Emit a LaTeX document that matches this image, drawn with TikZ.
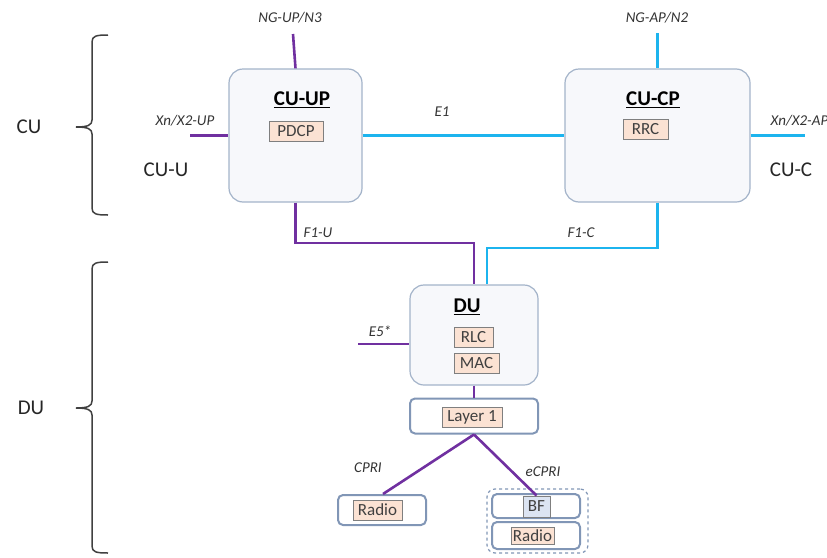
\documentclass[tikz,border=0pt]{standalone}
\usepackage{fontspec}
\setmainfont{Carlito}
\definecolor{plum}{HTML}{7030A0}
\definecolor{sky}{HTML}{1CB4EE}
\definecolor{unitline}{HTML}{A3B3C9}
\definecolor{unitfill}{HTML}{F7F8FB}
\definecolor{layerline}{HTML}{8196B6}
\definecolor{tagline}{HTML}{7F7F7F}
\definecolor{tagfill}{HTML}{FBE2D3}
\definecolor{bffill}{HTML}{DCE4F2}
\definecolor{braceline}{HTML}{404040}
\begin{document}
\begin{tikzpicture}[x=1pt,y=-1pt,
  unit/.style={draw=unitline, fill=unitfill, rounded corners=14pt, line width=1.2pt, inner sep=0pt},
  layerbox/.style={draw=layerline, fill=white, rounded corners=5pt, line width=2pt, inner sep=0pt},
  groupbox/.style={draw=layerline, dashed, rounded corners=8pt, line width=1.2pt, inner sep=0pt},
  tag/.style={draw=tagline, fill=tagfill, line width=1pt, inner sep=0pt, font=\fontsize{17}{17}\selectfont, text=black!75, minimum height=20pt},
  title/.style={font=\bfseries\fontsize{21}{21}\selectfont},
  iface/.style={font=\itshape\fontsize{15}{15}\selectfont, text=black!80},
  side/.style={font=\fontsize{21}{21}\selectfont, text=black!85},
  upl/.style={draw=plum, line width=2.6pt},
  cpl/.style={draw=sky, line width=2.6pt},
  bracepath/.style={draw=braceline, line width=1.5pt}]
\useasboundingbox (0,0) rectangle (827,557);

% functional units
\node[unit, minimum width=133pt, minimum height=133pt] (cuup) at (295.5,135.5) {};
\node[unit, minimum width=185pt, minimum height=133pt] (cucp) at (657.5,135.5) {};
\node[unit, minimum width=128pt, minimum height=100pt] (du) at (474,335) {};
\node[title] (cuupt) at (302,100) {\underline{CU-UP}};
\node[title] (cucpt) at (653,100) {\underline{CU-CP}};
\node[title] (dut) at (467,307) {\underline{DU}};
\node[tag, minimum width=54pt] (pdcp) at (296,131) {PDCP};
\node[tag, minimum width=45pt] (rrc) at (645.5,129) {RRC};
\node[tag, minimum width=39pt] (rlc) at (473.5,337) {RLC};
\node[tag, minimum width=45pt] (mac) at (476.5,363) {MAC};

% layer 1 and radio units
\node[layerbox, minimum width=128pt, minimum height=35pt] (l1) at (474,416) {};
\node[tag, minimum width=60pt] (l1t) at (472,417.5) {Layer 1};
\node[layerbox, minimum width=88pt, minimum height=30pt] (radioa) at (382,510) {};
\node[tag, minimum width=49pt] (radioat) at (377.5,510) {Radio};
\node[groupbox, minimum width=101pt, minimum height=64pt] (grp) at (537.5,521) {};
\node[layerbox, minimum width=88pt, minimum height=24pt] (bfbox) at (536,506) {};
\node[tag, fill=bffill, minimum width=27pt, minimum height=21pt] (bf) at (536.5,506.5) {BF};
\node[layerbox, minimum width=88pt, minimum height=27pt] (radiob) at (536,535.5) {};
\node[tag, minimum width=43pt, minimum height=17pt] (radiobt) at (532.5,536) {Radio};

% free ends of external interfaces
\coordinate (ngup) at (293,34);
\coordinate (xnup) at (190,135.5);
\coordinate (ngap) at (657.5,33);
\coordinate (xnap) at (805,135.5);
\coordinate (e5) at (358,344);

% interfaces
\draw[upl] (ngup) -- (cuup.north);
\draw[upl] (xnup) -- (cuup.west);
\draw[cpl] (cuup.east) -- (cucp.west);
\draw[cpl] (ngap) -- (cucp.north);
\draw[cpl] (cucp.east) -- (xnap);
\draw[upl] (cuup.south) -- (cuup.south |- 0,243) -| (du.north);
\draw[cpl] (cucp.south) -- (cucp.south |- 0,248) -| ([xshift=13pt]du.north);
\draw[upl] (e5) -- (e5 -| du.west);
\draw[upl] (du.south) -- (l1.north);
\draw[upl] (l1.south) -- ([xshift=1pt]radioa.north);
\draw[upl] (l1.south) -- (bf.north);

% interface labels
\node[iface] (lngup) at (290,18) {NG-UP/N3};
\node[iface] (lngap) at (657,18) {NG-AP/N2};
\node[iface] (lxnup) at (185,121) {Xn/X2-UP};
\node[iface, anchor=west] (lxnap) at (767,121) {Xn/X2-AP};
\node[iface] (le1) at (442,112) {E1};
\node[iface] (lf1u) at (318,233) {F1-U};
\node[iface] (lf1c) at (581,233) {F1-C};
\node[iface] (le5) at (380,331) {E5*};
\node[iface] (lcpri) at (368,468) {CPRI};
\node[iface] (lecpri) at (543,472) {eCPRI};

% side labels
\node[side] (cuu) at (166,170) {CU-U};
\node[side] (cuc) at (791,170) {CU-C};
\node[side] (cul) at (29,127) {CU};
\node[side] (dul) at (31,408) {DU};

% grouping braces
\draw[bracepath] (108,35) .. controls (96,35) and (92,36) .. (92,42) -- (92,120)
  .. controls (92,125) and (88,127) .. (76,127)
  .. controls (88,127) and (92,129) .. (92,134) -- (92,208)
  .. controls (92,214) and (96,215) .. (108,215);
\draw[bracepath] (108,262) .. controls (96,262) and (92,263) .. (92,269) -- (92,401)
  .. controls (92,406) and (88,408) .. (76,408)
  .. controls (88,408) and (92,410) .. (92,415) -- (92,546)
  .. controls (92,552) and (96,553) .. (108,553);
\end{tikzpicture}
\end{document}
